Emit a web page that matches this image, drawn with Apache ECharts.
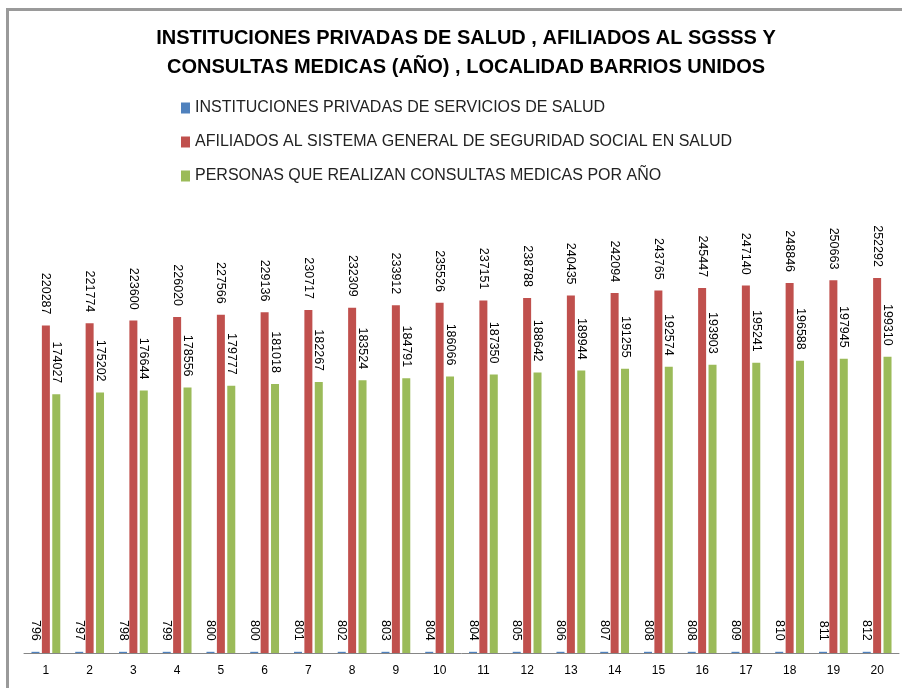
<!DOCTYPE html>
<html>
<head>
<meta charset="utf-8">
<script src="https://cdn.jsdelivr.net/npm/echarts@6/dist/echarts.min.js"></script>
<style>
  html, body { margin: 0; padding: 0; background: #fff; }
  #chart { width: 902px; height: 688px; }
</style>
</head>
<body>
<div id="chart"></div>
<script>
const categories = ['1', '2', '3', '4', '5', '6', '7', '8', '9', '10',
  '11', '12', '13', '14', '15', '16', '17', '18', '19', '20'];

const instituciones = [796, 797, 798, 799, 800, 800, 801, 802, 803, 804,
  804, 805, 806, 807, 808, 808, 809, 810, 811, 812];

const afiliados = [220287, 221774, 223600, 226020, 227566, 229136, 230717, 232309, 233912, 235526,
  237151, 238788, 240435, 242094, 243765, 245447, 247140, 248846, 250663, 252292];

const consultas = [174027, 175202, 176644, 178556, 179777, 181018, 182267, 183524, 184791, 186066,
  187350, 188642, 189944, 191255, 192574, 193903, 195241, 196588, 197945, 199310];

const seriesNames = [
  'INSTITUCIONES PRIVADAS DE SERVICIOS DE SALUD',
  'AFILIADOS AL SISTEMA GENERAL DE SEGURIDAD SOCIAL EN SALUD',
  'PERSONAS QUE REALIZAN CONSULTAS MEDICAS POR AÑO'
];

const colors = ['#4F81BD', '#C0504D', '#9BBB59'];

const chart = echarts.init(document.getElementById('chart'));

// etiqueta vertical encima de cada barra
const barLabel = {
  show: true,
  position: 'top',
  rotate: -90,
  align: 'right',
  verticalAlign: 'middle',
  distance: 11,
  color: '#000',
  fontFamily: 'Liberation Sans',
  fontSize: 12.5
};

const makeSeries = (name, data, color) => ({
  name: name,
  type: 'bar',
  data: data,
  barWidth: 8,
  barGap: '30%',
  itemStyle: { color: color },
  label: barLabel
});

const option = {
  animation: false,
  color: colors,
  title: {
    text: 'INSTITUCIONES PRIVADAS DE SALUD , AFILIADOS AL SGSSS Y\nCONSULTAS MEDICAS (AÑO) , LOCALIDAD BARRIOS UNIDOS',
    left: 461,
    textAlign: 'center',
    top: 19,
    textStyle: {
      fontFamily: 'Liberation Sans',
      fontWeight: 'bold',
      fontSize: 20,
      lineHeight: 29,
      color: '#000'
    }
  },
  legend: {
    orient: 'vertical',
    left: 176,
    top: 95,
    itemGap: 18,
    itemWidth: 9,
    itemHeight: 11,
    icon: 'rect',
    textStyle: {
      fontFamily: 'Liberation Sans',
      fontSize: 16,
      color: '#222'
    },
    data: seriesNames
  },
  graphic: [
    { type: 'rect', shape: { x: 6, y: 8, width: 902, height: 3 }, style: { fill: '#9a9a9a' } },
    { type: 'rect', shape: { x: 6, y: 8, width: 3, height: 688 }, style: { fill: '#9a9a9a' } }
  ],
  grid: {
    left: 24,
    right: 3,
    top: 207,
    bottom: 35
  },
  xAxis: {
    type: 'category',
    data: categories,
    axisLine: { lineStyle: { color: '#868686', width: 1 } },
    axisTick: { show: false },
    axisLabel: {
      color: '#000',
      fontFamily: 'Liberation Sans',
      fontSize: 12,
      margin: 12
    }
  },
  yAxis: {
    type: 'value',
    min: 0,
    max: 300000,
    show: false,
    splitLine: { show: false }
  },
  series: [
    makeSeries(seriesNames[0], instituciones, colors[0]),
    makeSeries(seriesNames[1], afiliados, colors[1]),
    makeSeries(seriesNames[2], consultas, colors[2])
  ]
};

chart.setOption(option);
</script>
</body>
</html>
